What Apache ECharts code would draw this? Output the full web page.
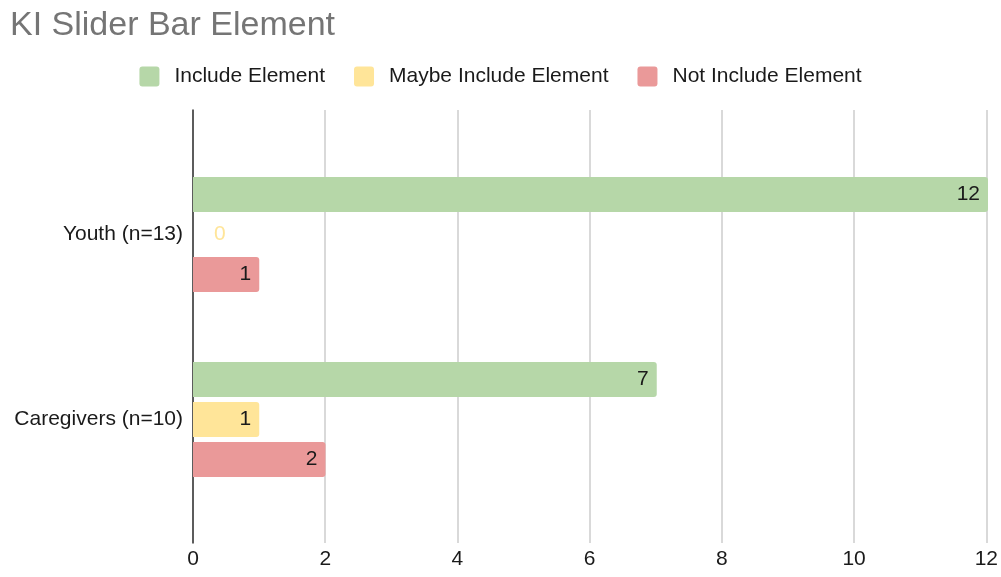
<!DOCTYPE html>
<html>
<head>
<meta charset="utf-8">
<script src="https://cdn.jsdelivr.net/npm/echarts@6/dist/echarts.min.js"></script>
<style>
html,body{margin:0;padding:0;background:#fff;}
#chart{width:1001px;height:577px;}
</style>
</head>
<body>
<div id="chart"></div>
<script>
var categories = ['Youth (n=13)', 'Caregivers (n=10)'];
var seriesNames = ['Include Element', 'Maybe Include Element', 'Not Include Element'];
var includeValues = [12, 7];
var maybeValues = [0, 1];
var notIncludeValues = [1, 2];
var xTicks = [0, 2, 4, 6, 8, 10, 12];

var colors = ['#b6d7a8', '#ffe599', '#ea9999'];
var FONT = '"Liberation Sans", Arial, sans-serif';

function buildData(values, color) {
  return values.map(function (v) {
    if (v === 0) {
      return { value: v, label: { position: 'right', distance: 21, color: color } };
    }
    return v;
  });
}

var allValues = [includeValues, maybeValues, notIncludeValues];
var series = allValues.map(function (vals, i) {
  return {
    name: seriesNames[i],
    type: 'bar',
    xAxisIndex: 0,
    yAxisIndex: 0,
    barWidth: 35,
    barGap: '14%',
    itemStyle: { color: colors[i], borderRadius: [0, 3, 3, 0] },
    label: {
      show: true,
      position: 'insideRight',
      distance: 8,
      color: '#1a1a1a',
      fontSize: 21,
      fontFamily: FONT
    },
    data: buildData(vals, colors[i])
  };
});

var chart = echarts.init(document.getElementById('chart'));
chart.setOption({
  animation: false,
  color: colors,
  title: {
    text: 'KI Slider Bar Element',
    left: 5,
    top: 4,
    padding: 5,
    textStyle: { color: '#757575', fontSize: 34, fontWeight: 'normal', fontFamily: FONT }
  },
  legend: {
    data: seriesNames,
    left: 'center',
    top: 61,
    icon: 'path://M3,0H17Q20,0 20,3V17Q20,20 17,20H3Q0,20 0,17V3Q0,0 3,0Z',
    itemWidth: 20,
    itemHeight: 20,
    itemGap: 29,
    textStyle: { color: '#1a1a1a', fontSize: 21, fontFamily: FONT, padding: [0, 0, 0, 10] }
  },
  grid: [
    { left: 193, right: 13, top: 142, bottom: 65, containLabel: false },
    { left: 193, right: 13, top: 110, bottom: 34, containLabel: false }
  ],
  xAxis: [
    { type: 'value', gridIndex: 0, min: xTicks[0], max: xTicks[xTicks.length - 1], interval: 2, show: false },
    {
      type: 'value', gridIndex: 1, min: xTicks[0], max: xTicks[xTicks.length - 1], interval: 2,
      axisLine: { show: false }, axisTick: { show: false },
      axisLabel: { color: '#1a1a1a', fontSize: 21, fontFamily: FONT, margin: 6 },
      splitLine: { show: true, lineStyle: { color: '#cccccc', width: 1.5 } }
    }
  ],
  yAxis: [
    {
      type: 'category', gridIndex: 0, data: categories, inverse: true,
      axisLine: { show: false }, axisTick: { show: false },
      axisLabel: { color: '#1a1a1a', fontSize: 21, fontFamily: FONT, margin: 10 }
    },
    {
      type: 'value', gridIndex: 1, min: 0, max: 1,
      axisLine: { show: true, lineStyle: { color: '#333', width: 1.5 } },
      axisTick: { show: false }, axisLabel: { show: false }, splitLine: { show: false }
    }
  ],
  series: series
});
</script>
</body>
</html>
